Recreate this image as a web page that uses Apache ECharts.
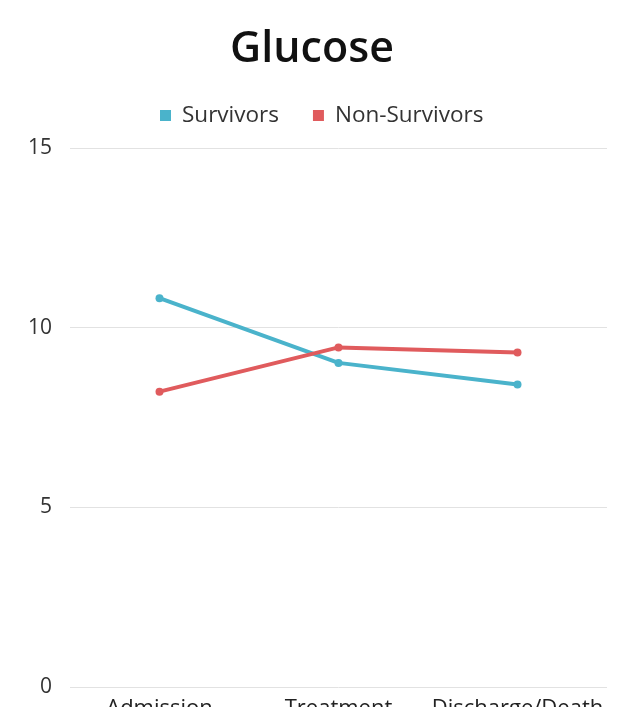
<!DOCTYPE html>
<html>
<head>
<meta charset="utf-8">
<style>
  html, body { margin: 0; padding: 0; background: #ffffff; overflow: hidden; }
  #chart { width: 624px; height: 707px; }
</style>
<script src="https://cdn.jsdelivr.net/npm/echarts@6/dist/echarts.min.js"></script>
</head>
<body>
<div id="chart"></div>
<script>
// Glucose levels by stage, survivors vs non-survivors
const stages = ['Admission', 'Treatment', 'Discharge/Death'];
const survivors = [10.82, 9.02, 8.42];
const nonSurvivors = [8.22, 9.45, 9.31];
const yTicks = [0, 5, 10, 15];

const fontFamily = '"Open Sans", "Noto Sans", sans-serif';

const chart = echarts.init(document.getElementById('chart'), null, { renderer: 'canvas' });
chart.setOption({
  backgroundColor: '#ffffff',
  animation: false,
  title: {
    text: 'Glucose',
    left: 'center',
    top: 28,
    padding: 0,
    textStyle: { fontFamily: fontFamily, fontSize: 43, fontWeight: 600, color: '#111111' }
  },
  legend: {
    top: 104,
    left: 160,
    padding: 0,
    itemWidth: 11,
    itemHeight: 11,
    itemGap: 34,
    icon: 'rect',
    textStyle: { fontFamily: fontFamily, fontSize: 22.5, color: '#333333', padding: [0, 0, 0, 6] },
    data: ['Survivors', 'Non-Survivors']
  },
  grid: { left: 70, right: 17, top: 148, bottom: 20, containLabel: false, outerBoundsMode: 'none' },
  xAxis: {
    type: 'category',
    data: stages,
    boundaryGap: true,
    axisLine: { show: false },
    axisTick: { show: false },
    axisLabel: { interval: 0, margin: 11, fontFamily: fontFamily, fontSize: 22, color: '#222222' }
  },
  yAxis: {
    type: 'value',
    min: yTicks[0],
    max: yTicks[yTicks.length - 1],
    interval: 5,
    axisLine: { show: false },
    axisTick: { show: false },
    axisLabel: { margin: 18, fontFamily: fontFamily, fontSize: 21, color: '#333333' },
    splitLine: { lineStyle: { color: '#e2e2e2', width: 1 } }
  },
  series: [
    {
      name: 'Survivors',
      type: 'line',
      data: survivors,
      color: '#4ab3cb',
      symbol: 'circle',
      symbolSize: 8,
      lineStyle: { width: 4 }
    },
    {
      name: 'Non-Survivors',
      type: 'line',
      data: nonSurvivors,
      color: '#e05b5d',
      symbol: 'circle',
      symbolSize: 8,
      lineStyle: { width: 4 }
    }
  ]
});
</script>
</body>
</html>
